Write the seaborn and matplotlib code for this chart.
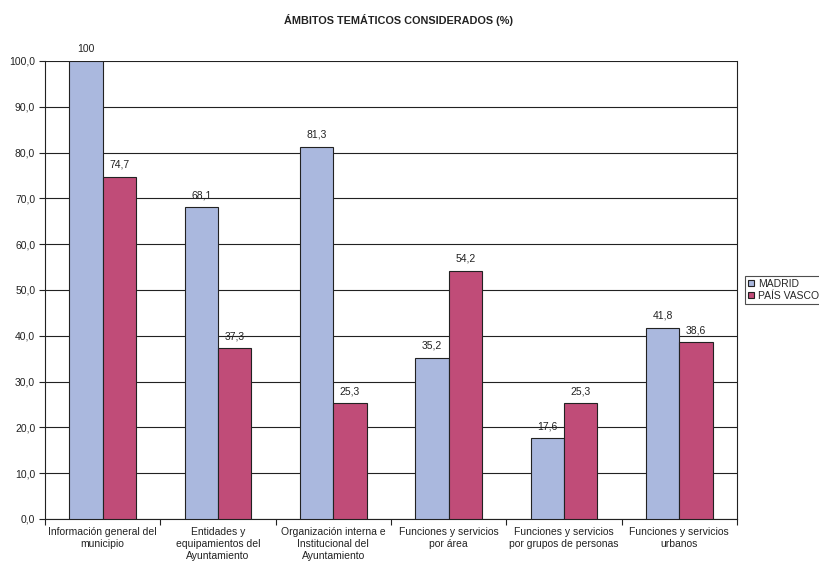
import pandas as pd
import seaborn as sns
import matplotlib.pyplot as plt
from matplotlib.ticker import FuncFormatter, FixedLocator

categories = [
    "Información general del\nmunicipio",
    "Entidades y\nequipamientos del\nAyuntamiento",
    "Organización interna e\nInstitucional del\nAyuntamiento",
    "Funciones y servicios\npor área",
    "Funciones y servicios\npor grupos de personas",
    "Funciones y servicios\nurbanos",
]
madrid = [100, 68.1, 81.3, 35.2, 17.6, 41.8]
pais_vasco = [74.7, 37.3, 25.3, 54.2, 25.3, 38.6]
series = ["MADRID", "PAÍS VASCO"]
colors = ["#AAB8DE", "#C04C78"]

df = pd.DataFrame({
    "cat": categories * 2,
    "serie": [series[0]] * 6 + [series[1]] * 6,
    "valor": madrid + pais_vasco,
})

sns.set_theme(style="white")
plt.rcParams['font.family'] = ['Liberation Sans', 'DejaVu Sans']

fig = plt.figure(figsize=(8.19, 5.63), dpi=100)
ax = fig.add_axes([0.0549, 0.0782, 0.845, 0.8135])

sns.barplot(data=df, x="cat", y="valor", hue="serie", palette=colors,
            width=0.58, edgecolor="#222222", linewidth=0.8, saturation=1,
            ax=ax, zorder=3)

def fmt(v):
    if v == int(v) and v >= 100:
        return f"{int(v)}"
    return f"{v:.1f}".replace(".", ",")

for cont in ax.containers:
    ax.bar_label(cont, labels=[fmt(b.get_height()) for b in cont],
                 padding=5, fontsize=7.5, color="#222222")

ax.set_ylim(0, 100)
ax.set_xlim(-0.5, 5.5)
ax.set_yticks(range(0, 101, 10))
ax.yaxis.set_major_formatter(FuncFormatter(lambda v, p: f"{v:.1f}".replace(".", ",")))
ax.yaxis.grid(True, color="#222222", linewidth=0.8, zorder=0)
ax.set_axisbelow(True)

ax.tick_params(axis="y", which="major", direction="out", length=4, width=0.8,
               colors="#222222", labelsize=7.5, left=True, pad=3)
ax.tick_params(axis="x", which="major", length=0, labelsize=7.5, pad=6,
               colors="#222222")
ax.xaxis.set_minor_locator(FixedLocator([i + 0.5 for i in range(-1, 6)]))
ax.tick_params(axis="x", which="minor", direction="out", length=4, width=0.8,
               color="#222222", bottom=True)

for s in ["left", "bottom", "right", "top"]:
    ax.spines[s].set_color("#222222")
    ax.spines[s].set_linewidth(0.8)
ax.spines["top"].set_visible(False)

ax.set_xlabel("")
ax.set_ylabel("")

handles, labels = ax.get_legend_handles_labels()
leg = ax.legend(handles, labels, loc="center left", bbox_to_anchor=(1.012, 0.5),
                fontsize=7.5, frameon=True, fancybox=False, handlelength=0.5,
                handleheight=0.5, handletextpad=0.4, borderpad=0.3,
                labelspacing=0.2, borderaxespad=0)
leg.get_frame().set_edgecolor("#222222")
leg.get_frame().set_linewidth(0.8)

fig.suptitle("ÁMBITOS TEMÁTICOS CONSIDERADOS (%)", fontsize=7.8,
             fontweight="bold", x=0.487, y=0.964, va="center", color="#222222")

fig.savefig("out.png", dpi=100)
